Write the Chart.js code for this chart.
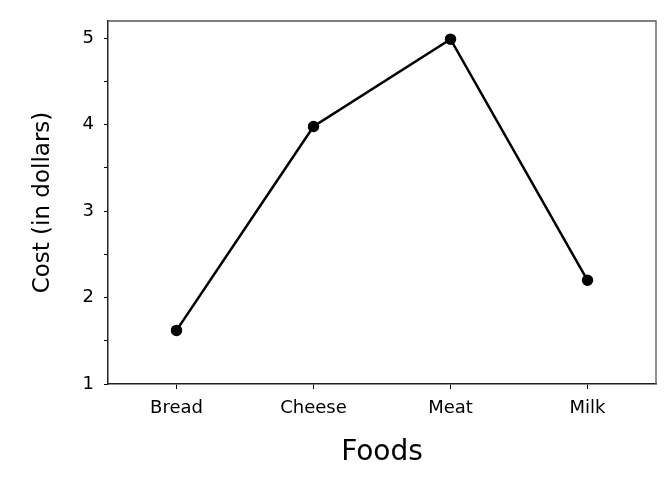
<!DOCTYPE html>
<html><head><meta charset="utf-8">
<script src="https://cdn.jsdelivr.net/npm/chart.js@4"></script>
<style>html,body{margin:0;padding:0;background:#fff}#wrap{width:672px;height:490px}</style>
</head><body><div id="wrap"><canvas id="c" width="672" height="490"></canvas></div>
<script>
const categories = ['Bread', 'Cheese', 'Meat', 'Milk'];
const costs = [1.62, 3.98, 4.99, 2.2];
const yMin = 1, yMax = 5.2, yStep = 0.5;
const xTitle = 'Foods';
const yTitle = 'Cost (in dollars)';
const FONT = '"DejaVu Sans", sans-serif';

const frame = {
  id: 'frame',
  afterDraw(chart) {
    const a = chart.chartArea, ctx = chart.ctx;
    ctx.save();
    ctx.strokeStyle = '#555';
    ctx.lineWidth = 1.3;
    ctx.beginPath();
    ctx.moveTo(a.left, a.top); ctx.lineTo(a.right, a.top); ctx.lineTo(a.right, a.bottom);
    ctx.stroke();
    ctx.restore();
  }
};

new Chart(document.getElementById('c'), {
  type: 'line',
  data: { labels: categories, datasets: [{ data: costs, borderColor: '#000', backgroundColor: '#000', borderWidth: 2.5, pointRadius: 4.5, pointHoverRadius: 4.5, tension: 0 }] },
  options: {
    responsive: false, animation: false, events: [],
    layout: { padding: { top: 21, right: 16, left: 0, bottom: 0 } },
    plugins: { legend: { display: false }, tooltip: { enabled: false } },
    scales: {
      x: {
        offset: true,
        grid: { display: true, drawOnChartArea: false, tickLength: 5, color: '#000', offset: false },
        border: { display: true, color: '#222', width: 1.5 },
        ticks: { color: '#000', font: { family: FONT, size: 18 }, padding: 9, maxRotation: 0 },
        title: { display: true, text: xTitle, color: '#000', font: { family: FONT, size: 28 }, padding: { top: 4, bottom: 20 } },
        afterFit(s) { s.height = 106; }
      },
      y: {
        min: yMin, max: yMax,
        afterBuildTicks(s) { s.ticks = s.ticks.filter(t => t.value <= 5 + 1e-9); },
        grid: { display: true, drawOnChartArea: false, tickLength: 4, color: '#000' },
        border: { display: true, color: '#222', width: 1.5 },
        ticks: { stepSize: yStep, includeBounds: false, color: '#000', font: { family: FONT, size: 18 }, padding: 10,
          callback: v => Number.isInteger(v) ? String(v) : '' },
        title: { display: true, text: yTitle, color: '#000', font: { family: FONT, size: 23 }, padding: { top: 29, bottom: 0 } },
        afterFit(s) { s.width = 108; }
      }
    }
  },
  plugins: [frame]
});
</script></body></html>
